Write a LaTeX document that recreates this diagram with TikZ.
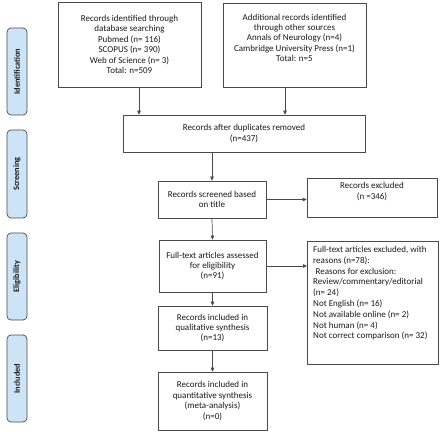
\documentclass[tikz,border=0pt]{standalone}
\usepackage{fontspec}
\setmainfont{Carlito}
\usetikzlibrary{arrows.meta}
\definecolor{sidefill}{HTML}{CDE4F6}
\definecolor{linecol}{HTML}{4A4A4A}
\definecolor{txtcol}{HTML}{1A1A1A}
\tikzset{
  box/.style={draw=linecol, line width=0.7pt, fill=white, text=txtcol, align=center,
    inner sep=2pt, font=\fontsize{9}{10.4}\selectfont},
  txt/.style={text=txtcol, align=left, inner sep=0pt, font=\fontsize{9}{10.8}\selectfont},
  side/.style={draw=linecol, line width=0.7pt, fill=sidefill, rounded corners=4pt,
    minimum width=20pt, minimum height=87pt, inner sep=0pt},
  sidetxt/.style={rotate=90, text=txtcol, font=\fontsize{8.3}{10}\selectfont\bfseries},
  arr/.style={draw=linecol, line width=0.7pt, -{Triangle[length=4pt,width=3.6pt]}},
}
\begin{document}
\begin{tikzpicture}[x=1pt,y=-1pt]
\useasboundingbox (0,0) rectangle (440,436);
% side labels
\node[side] (sid) at (17,71.5) {};
\node[sidetxt] (sidt) at (sid.center) {Identification};
\node[side, minimum height=88pt] (sscr) at (17,174) {};
\node[sidetxt] (sscrt) at (sscr.center) {Screening};
\node[side] (sel) at (17,276.5) {};
\node[sidetxt] (selt) at (sel.center) {Eligibility};
\node[side] (sinc) at (17,378.5) {};
\node[sidetxt] (sinct) at (sinc.center) {Included};
% boxes
\node[box, minimum width=143pt, minimum height=85pt] (A) at (129.5,44.5)
  {Records identified through\\database searching\\Pubmed (n= 116)\\SCOPUS (n= 390)\\Web of Science (n= 3)\\Total: n=509};
\node[box, minimum width=143pt, minimum height=84pt] (B) at (294.5,45)
  {Additional records identified\\through other sources\\Annals of Neurology (n=4)\\Cambridge University Press (n=1)\\Total: n=5\\[4pt]};
\node[box, minimum width=242pt, minimum height=37pt] (dup) at (244,133.5)
  {Records after duplicates removed\\(n=437)};
\node[box, minimum width=108pt, minimum height=37pt] (scr) at (212,199.5)
  {Records screened based\\on title};
\node[box, minimum width=130pt, minimum height=39pt] (exc) at (372,197.5)
  {Records excluded\\(n =346)\\[3pt]};
\node[box, minimum width=107pt, minimum height=52pt] (ft) at (212.5,266)
  {Full-text articles assessed\\for eligibility\\(n=91)};
\node[box, anchor=north west, minimum width=131pt, minimum height=123pt] (ftx) at (307,241) {};
\node[txt, anchor=north west] (ftxt) at ([xshift=6pt,yshift=-5pt]ftx.north west)
  {Full-text articles excluded, with\\reasons (n=78):\\\hspace*{2.5pt}Reasons for exclusion:\\Review/commentary/editorial\\(n= 24)\\Not English (n= 16)\\Not available online (n= 2)\\Not human (n= 4)\\Not correct comparison (n= 32)};
\node[box, minimum width=109pt, minimum height=44pt] (qual) at (212.5,328)
  {Records included in\\qualitative synthesis\\(n=13)};
\node[box, minimum width=109pt, minimum height=58pt] (quan) at (212.5,401)
  {Records included in\\quantitative synthesis\\(meta-analysis)\\(n=0)};
% connectors
\draw[arr] ([xshift=9.5pt]A.south) -- ([xshift=9.5pt]A.south |- dup.north);
\draw[arr] ([xshift=-9.5pt]B.south) -- ([xshift=-9.5pt]B.south |- dup.north);
\draw[arr] (scr.north |- dup.south) -- (scr.north);
\draw[arr] (scr.east) -- (scr.east -| exc.west);
\draw[arr] (scr.south) -- (ft.north);
\draw[arr] (ft.east) -- (ft.east -| ftx.west);
\draw[arr] (ft.south) -- (qual.north);
\draw[arr] (qual.south) -- (quan.north);
\end{tikzpicture}
\end{document}
